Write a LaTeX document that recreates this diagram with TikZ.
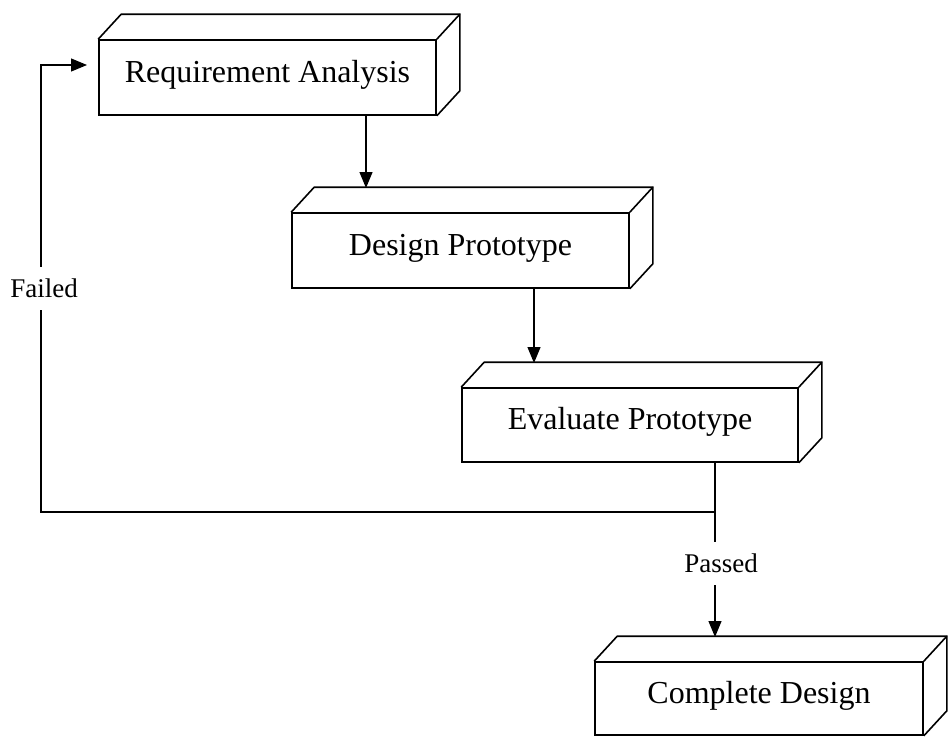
\documentclass[tikz,border=0pt]{standalone}
\usepackage{fontspec}
\setmainfont{Liberation Serif}
\usetikzlibrary{arrows.meta,calc}

\tikzset{
  stage/.style={draw, line width=1.6pt, rectangle, minimum width=337pt, minimum height=75pt,
    inner sep=0pt, text height=22pt, text depth=13pt,
    font=\fontsize{32}{38}\selectfont},
  depth/.style={line width=1.6pt, line join=miter},
  conn/.style={line width=1.2pt},
  arr/.style={conn, -{Triangle[length=16pt,width=13pt]}},
  lbl/.style={fill=white, inner xsep=1pt, inner ysep=12pt, font=\fontsize{27}{32}\selectfont}
}

\begin{document}
\begin{tikzpicture}[x=1pt, y=-1pt]
  \useasboundingbox (0,0) rectangle (949,736);

  % front faces of the four stages
  \node[stage] (ra) at (267.5,77.5) {Requirement Analysis};
  \node[stage] (dp) at (460.5,250.5) {Design Prototype};
  \node[stage, minimum width=336pt, minimum height=74pt] (ep) at (630,425) {Evaluate Prototype};
  \node[stage, minimum width=328pt, minimum height=73pt] (cd) at (759,698.5) {Complete Design};

  % top and side faces giving each box its depth
  \foreach \n in {ra,dp,ep,cd} {
    \draw[depth] (\n.north west) -- ++(23pt,25pt)
      -| ($(\n.south east)+(23pt,25pt)$) -- (\n.south east);
    \draw[depth] (\n.north east) -- ++(23pt,25pt);
  }

  % arrow end points on the top faces and the branch point
  \coordinate (dpin) at (366,188);
  \coordinate (epin) at (534,363);
  \coordinate (split) at (715,512);
  \coordinate (cdin) at (715,637);
  \coordinate (corner) at (41,65);
  \coordinate (rain) at (87,65);

  % forward flow
  \draw[arr] (ra.south -| dpin) -- (dpin);
  \draw[arr] (dp.south -| epin) -- (epin);

  % outcome of the evaluation
  \draw[conn] (ep.south -| split) -- (split);
  \draw[arr] (split) -- node[lbl, pos=0.41, xshift=6pt] {Passed} (cdin);
  \draw[arr] (split) -| node[lbl, pos=0.75, xshift=3pt] {Failed} (corner) -- (rain);
\end{tikzpicture}
\end{document}
